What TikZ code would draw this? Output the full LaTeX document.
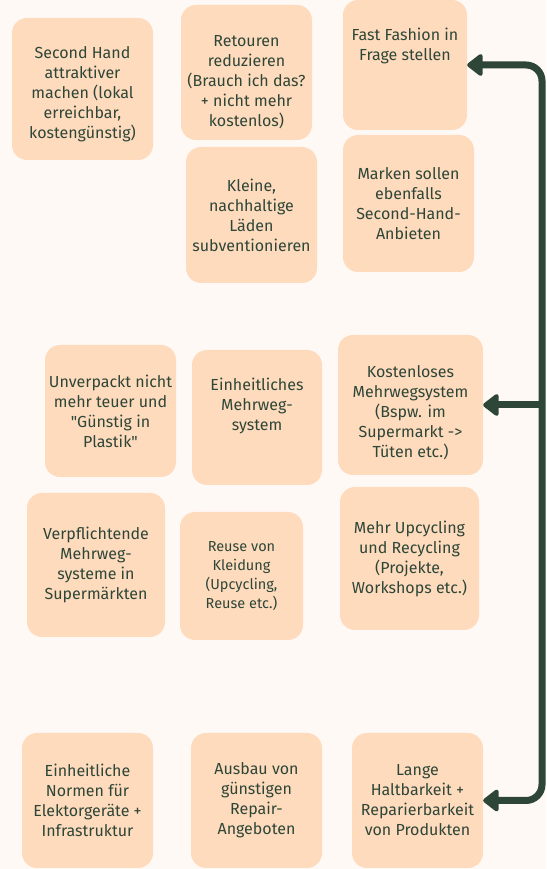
\documentclass[tikz,border=0pt]{standalone}
\usepackage{fontspec}
\setmainfont{Fira Sans}
\usepackage{xcolor}
\usetikzlibrary{arrows.meta}
\definecolor{paper}{HTML}{FFF9F6}
\definecolor{peach}{HTML}{FFDBBD}
\definecolor{ink}{HTML}{2D4638}

\begin{document}
\begin{tikzpicture}[x=1pt,y=1pt,
  note/.style={fill=peach, text=ink, rounded corners=15pt, align=center, inner sep=3pt,
    font=\fontsize{16}{20}\selectfont, minimum width=131pt, minimum height=135pt},
  flow/.style={draw=ink, line width=7pt, rounded corners=16pt},
  >={Triangle[length=17pt,width=25pt,round]}]
\fill[paper] (0,0) rectangle (546,869);
\useasboundingbox (0,0) rectangle (546,869);

\node[note, minimum width=141pt, minimum height=142pt, text height=104pt, text depth=5pt] (secondhand) at (82.5,780) {Second Hand\\attraktiver\\machen (lokal\\erreichbar,\\kostengünstig)};
\node[note, text height=114pt, text depth=5pt] (retouren) at (246.5,796.5) {Retouren\\reduzieren\\(Brauch ich das?\\+ nicht mehr\\kostenlos)};
\node[note, minimum width=124pt, minimum height=130pt, text depth=42pt] (fastfashion) at (405,804) {Fast Fashion in\\Frage stellen};
\node[note, minimum height=136pt] (kleine) at (251.5,654) {Kleine,\\nachhaltige\\Läden\\subventionieren};
\node[note, minimum height=137pt] (marken) at (408.5,665.5) {Marken sollen\\ebenfalls\\Second-Hand-\\Anbieten};

\node[note, minimum height=132pt] (unverpackt) at (110.5,458) {Unverpackt nicht\\mehr teuer und\\\textquotedbl Günstig in\\Plastik\textquotedbl};
\node[note, minimum width=130pt, text depth=27pt] (einheitlich) at (257,451.5) {Einheitliches\\Mehrweg-\\system};
\node[note, minimum width=145pt, minimum height=140pt, text height=110pt, text depth=5pt] (kostenlos) at (410.5,464) {Kostenloses\\Mehrwegsystem\\(Bspw. im\\Supermarkt ->\\Tüten etc.)};
\node[note, minimum width=138pt, minimum height=144pt] (verpflichtend) at (96,304) {Verpflichtende\\Mehrweg-\\systeme in\\Supermärkten};
\node[note, minimum width=123pt, minimum height=128pt, font=\fontsize{14.5}{19}\selectfont] (reuse) at (241.5,293) {Reuse von\\Kleidung\\(Upcycling,\\Reuse etc.)};
\node[note, minimum width=139pt, minimum height=143pt] (upcycling) at (409.5,310.5) {Mehr Upcycling\\und Recycling\\(Projekte,\\Workshops etc.)};

\node[note] (normen) at (87.5,68.5) {Einheitliche\\Normen für\\Elektorgeräte +\\Infrastruktur};
\node[note] (repair) at (256.5,68.5) {Ausbau von\\günstigen\\Repair-\\Angeboten};
\node[note] (haltbarkeit) at (417.5,68.5) {Lange\\Haltbarkeit +\\Reparierbarkeit\\von Produkten};

\coordinate (spine) at (542,0);
\draw[flow, <->] (fastfashion.east) -| (spine |- haltbarkeit.east) -- (haltbarkeit.east);
\draw[flow, ->] (spine |- kostenlos.east) -- (kostenlos.east);
\end{tikzpicture}
\end{document}
